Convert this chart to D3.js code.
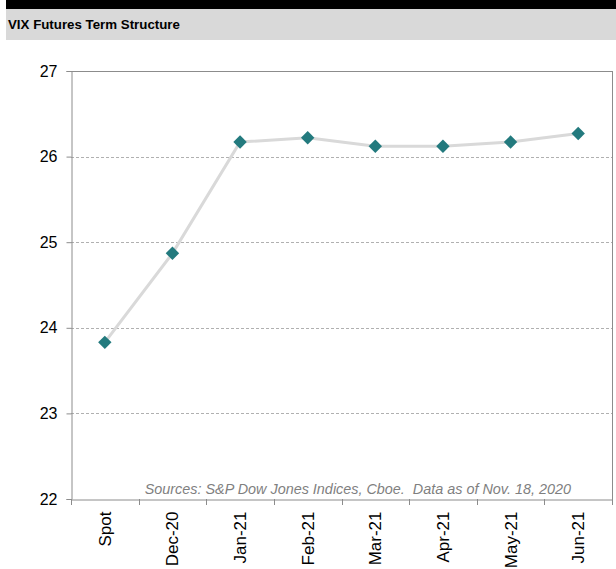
<!DOCTYPE html>
<html><head><meta charset="utf-8">
<script src="https://cdn.jsdelivr.net/npm/d3@7"></script>
<style>body{margin:0;background:#fff;}svg{display:block;font-family:"Liberation Sans",Arial,sans-serif;}</style>
</head><body>
<svg id="c" width="616" height="569"></svg>
<script>
const categories = ["Spot","Dec-20","Jan-21","Feb-21","Mar-21","Apr-21","May-21","Jun-21"];
const values = [23.83, 24.87, 26.17, 26.22, 26.12, 26.12, 26.17, 26.27];
const yTicks = [22,23,24,25,26,27];
const title = "VIX Futures Term Structure";
const source = "Sources: S&P Dow Jones Indices, Cboe.  Data as of Nov. 18, 2020";

const svg = d3.select("#c");
const L = 71, R = 612, T = 71, B = 499;
svg.append("rect").attr("x",6).attr("y",0).attr("width",610).attr("height",9).attr("fill","#000");
svg.append("rect").attr("x",6).attr("y",9).attr("width",610).attr("height",31).attr("fill","#d9d9d9");
svg.append("text").attr("x",8).attr("y",29).attr("font-size",13.3).attr("font-weight","bold").attr("fill","#000").text(title);

const x = d3.scaleBand().domain(categories).range([L,R]);
const y = d3.scaleLinear().domain([22,27]).range([B,T]);

// gridlines
svg.append("g").selectAll("line").data(yTicks.filter(v=>v>22 && v<27)).join("line")
  .attr("x1",L).attr("x2",R).attr("y1",d=>Math.round(y(d))+0.5).attr("y2",d=>Math.round(y(d))+0.5)
  .attr("stroke","#b0b0b0").attr("stroke-dasharray","3,2").attr("stroke-width",1);
// border top & right
svg.append("line").attr("x1",L).attr("x2",R).attr("y1",T+0.5).attr("y2",T+0.5).attr("stroke","#8c8c8c");
svg.append("line").attr("x1",R+0.5).attr("x2",R+0.5).attr("y1",T).attr("y2",B).attr("stroke","#8c8c8c");

// y axis
const ya = svg.append("g").attr("transform",`translate(${L+0.5},0)`)
  .call(d3.axisLeft(y).tickValues(yTicks).tickSize(5).tickPadding(9).tickFormat(d3.format("d")));
ya.select(".domain").attr("stroke","#8c8c8c");
ya.selectAll(".tick line").attr("stroke","#8c8c8c");
ya.selectAll("text").attr("font-size",16).attr("fill","#000").attr("font-family","Liberation Sans, Arial, sans-serif");

// x axis
const xa = svg.append("g").attr("transform",`translate(0,${B+0.5})`)
  .call(d3.axisBottom(x).tickSize(0).tickSizeOuter(0).tickPadding(0));
xa.select(".domain").attr("stroke","#8c8c8c");
xa.selectAll(".tick text").attr("font-size",17).attr("fill","#000").attr("font-family","Liberation Sans, Arial, sans-serif")
  .attr("transform","rotate(-90)").attr("text-anchor","end").attr("dy","0.35em").attr("x",-12).attr("y",0);
svg.append("g").selectAll("line").data(categories.concat(["end"])).join("line")
  .attr("x1",(d,i)=>Math.round(L + i*x.step())+0.5).attr("x2",(d,i)=>Math.round(L + i*x.step())+0.5)
  .attr("y1",B).attr("y2",B+6).attr("stroke","#8c8c8c");

// source
svg.append("text").attr("x",571).attr("y",494).attr("text-anchor","end").attr("font-size",14.4).attr("font-style","italic")
  .attr("fill","#7f7f7f").style("white-space","pre").text(source);

// line
const line = d3.line().x((d,i)=>x(categories[i])+x.bandwidth()/2).y(d=>y(d));
svg.append("path").datum(values).attr("d",line).attr("fill","none").attr("stroke","#d9d9d9").attr("stroke-width",3);
svg.append("g").selectAll("path").data(values).join("path")
  .attr("d",d3.symbol(d3.symbolSquare,90))
  .attr("transform",(d,i)=>`translate(${x(categories[i])+x.bandwidth()/2},${y(d)}) rotate(45)`)
  .attr("fill","#237a7e");
</script>
</body></html>
